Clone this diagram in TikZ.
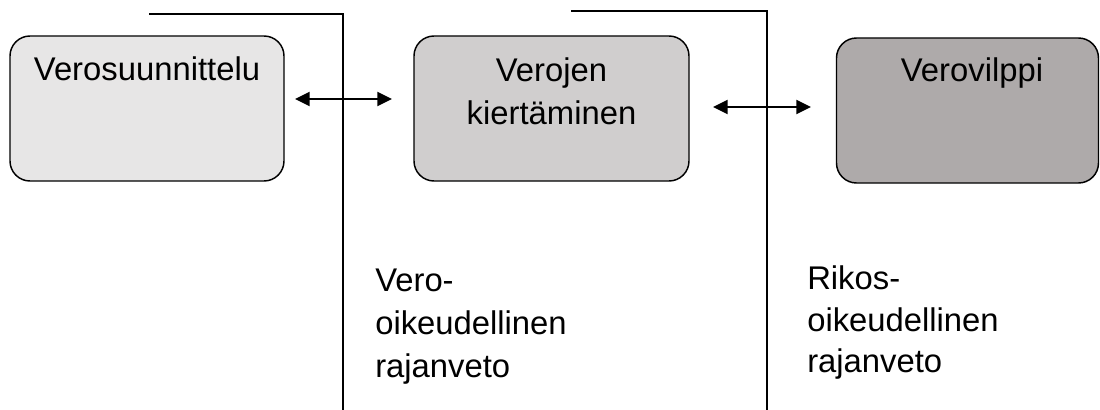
\documentclass[tikz,border=0pt]{standalone}
\usepackage{fontspec}
\setmainfont{Liberation Sans}
\usetikzlibrary{arrows.meta}
\definecolor{fillA}{HTML}{E7E6E6}
\definecolor{fillB}{HTML}{D0CECE}
\definecolor{fillC}{HTML}{AEAAAA}
\tikzset{
  boxstyle/.style={draw=black, line width=1.1pt, rounded corners=15pt, inner sep=0pt},
  lbl/.style={inner sep=0pt, font=\fontsize{24.6}{31}\selectfont},
  divider/.style={draw=black, line width=1.3pt},
  biarrow/.style={line width=1.6pt, {Triangle[length=11pt,width=10.5pt]}-{Triangle[length=11pt,width=10.5pt]}}
}
\begin{document}
\begin{tikzpicture}[x=0.75pt,y=-0.75pt]
\useasboundingbox (0,0) rectangle (1100,410);
% boxes
\node[boxstyle, fill=fillA, minimum width=274*0.75pt, minimum height=145*0.75pt] (b1) at (147,108.5) {};
\node[boxstyle, fill=fillB, minimum width=275*0.75pt, minimum height=145*0.75pt] (b2) at (551.5,108.5) {};
\node[boxstyle, fill=fillC, minimum width=262*0.75pt, minimum height=145*0.75pt] (b3) at (967.5,110.5) {};
% box texts
\node[lbl, anchor=base] (t1) at (147,81) {Verosuunnittelu};
\node[lbl, anchor=base] (t2a) at (551.5,82) {Verojen};
\node[lbl, anchor=base] (t2b) at (551.5,124) {kiertäminen};
\node[lbl, anchor=base] (t3) at (972,82) {Verovilppi};
% dividers
\coordinate (d1s) at (149,14);
\coordinate (d1c) at (343,14);
\coordinate (d1e) at (343,410);
\coordinate (d2s) at (571,11);
\coordinate (d2c) at (767,11);
\coordinate (d2e) at (767,410);
\draw[divider] (d1s) -- (d1c) -- (d1e);
\draw[divider] (d2s) -- (d2c) -- (d2e);
% arrows
\coordinate (a1l) at (295,99);
\coordinate (a1r) at (392,99);
\coordinate (a2l) at (713,107);
\coordinate (a2r) at (811,107);
\draw[biarrow] (a1l) -- (a1r);
\draw[biarrow] (a2l) -- (a2r);
% bottom labels
\node[lbl, anchor=base west] (l1a) at (375,291) {Vero-};
\node[lbl, anchor=base west] (l1b) at (375,334) {oikeudellinen};
\node[lbl, anchor=base west] (l1c) at (375,377) {rajanveto};
\node[lbl, anchor=base west] (l2a) at (807,289) {Rikos-};
\node[lbl, anchor=base west] (l2b) at (807,331) {oikeudellinen};
\node[lbl, anchor=base west] (l2c) at (807,372) {rajanveto};
\end{tikzpicture}
\end{document}
